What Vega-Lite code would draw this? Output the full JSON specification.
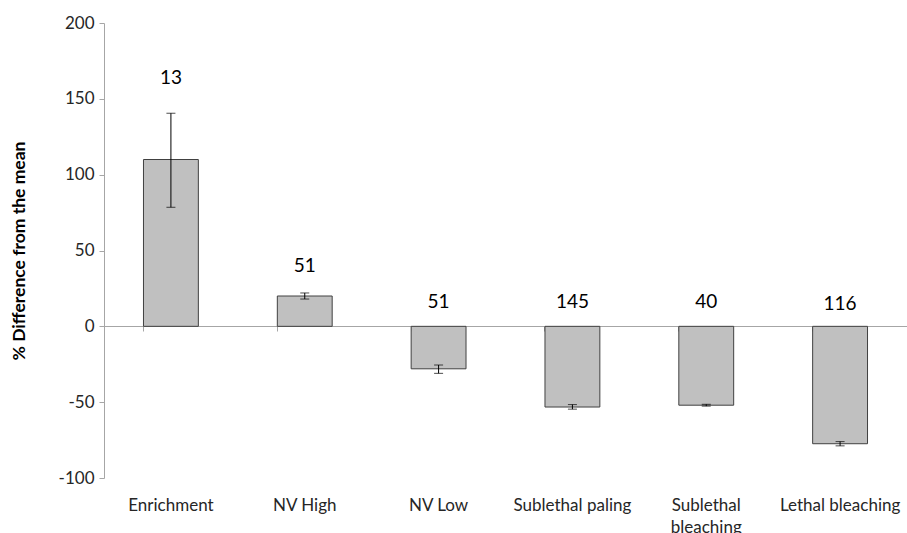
{
  "$schema": "https://vega.github.io/schema/vega-lite/v6.json",
  "width": 803,
  "height": 455,
  "autosize": "none",
  "padding": {"left": 104, "top": 23, "right": 0, "bottom": 55},
  "background": "white",
  "config": {"view": {"stroke": null}, "font": "Lato"},
  "data": {
    "values": [
      {"group": "Enrichment", "mean": 110, "lo": 78.5, "hi": 140.5, "n": "13", "labelY": 164},
      {"group": "NV High", "mean": 20, "lo": 18, "hi": 22, "n": "51", "labelY": 40},
      {"group": "NV Low", "mean": -28, "lo": -31, "hi": -25.5, "n": "51", "labelY": 16},
      {"group": "Sublethal paling", "mean": -53.2, "lo": -54.6, "hi": -51.6, "n": "145", "labelY": 16},
      {"group": "Sublethal bleaching", "mean": -52, "lo": -52.6, "hi": -51.4, "n": "40", "labelY": 16},
      {"group": "Lethal bleaching", "mean": -77.4, "lo": -78.8, "hi": -76, "n": "116", "labelY": 15}
    ]
  },
  "encoding": {
    "x": {
      "field": "group",
      "type": "nominal",
      "sort": null,
      "scale": {"paddingInner": 0.59, "paddingOuter": 0.295},
      "axis": {
        "title": null,
        "orient": "bottom",
        "offset": -152,
        "bandPosition": 0,
        "domainColor": "#a6a6a6",
        "tickColor": "#a6a6a6",
        "tickSize": 5,
        "labelAngle": 0,
        "labelPadding": 166,
        "labelFontSize": 17,
        "labelColor": "#262626",
        "labelBaseline": "top",
        "labelLineHeight": 22,
        "labelExpr": "datum.label == 'Sublethal bleaching' ? ['Sublethal', 'bleaching'] : datum.label"
      }
    }
  },
  "layer": [
    {
      "mark": {"type": "bar", "fill": "#c0c0c0", "stroke": "#404040", "strokeWidth": 1},
      "encoding": {
        "y": {
          "field": "mean",
          "type": "quantitative",
          "scale": {"domain": [-100, 200], "nice": false, "zero": false},
          "axis": {
            "title": "% Difference from the mean",
            "titleFontSize": 17.5,
            "titleFontWeight": "bold",
            "titleColor": "#000000",
            "titlePadding": 30,
            "values": [-100, -50, 0, 50, 100, 150, 200],
            "labelExpr": "replace(datum.label, '\u2212', '-')",
            "grid": false,
            "domainColor": "#a6a6a6",
            "tickColor": "#a6a6a6",
            "tickSize": 5,
            "labelFontSize": 17,
            "labelColor": "#262626",
            "labelPadding": 5
          }
        },
        "y2": {"datum": 0}
      }
    },
    {
      "mark": {"type": "rule", "color": "#000000", "strokeWidth": 1},
      "encoding": {
        "y": {"field": "lo", "type": "quantitative"},
        "y2": {"field": "hi"}
      }
    },
    {
      "mark": {"type": "tick", "color": "#000000", "thickness": 1, "size": 9, "orient": "horizontal"},
      "encoding": {"y": {"field": "lo", "type": "quantitative"}}
    },
    {
      "mark": {"type": "tick", "color": "#000000", "thickness": 1, "size": 9, "orient": "horizontal"},
      "encoding": {"y": {"field": "hi", "type": "quantitative"}}
    },
    {
      "mark": {"type": "text", "fontSize": 19, "color": "#000000", "baseline": "middle"},
      "encoding": {
        "y": {"field": "labelY", "type": "quantitative"},
        "text": {"field": "n"}
      }
    }
  ]
}
